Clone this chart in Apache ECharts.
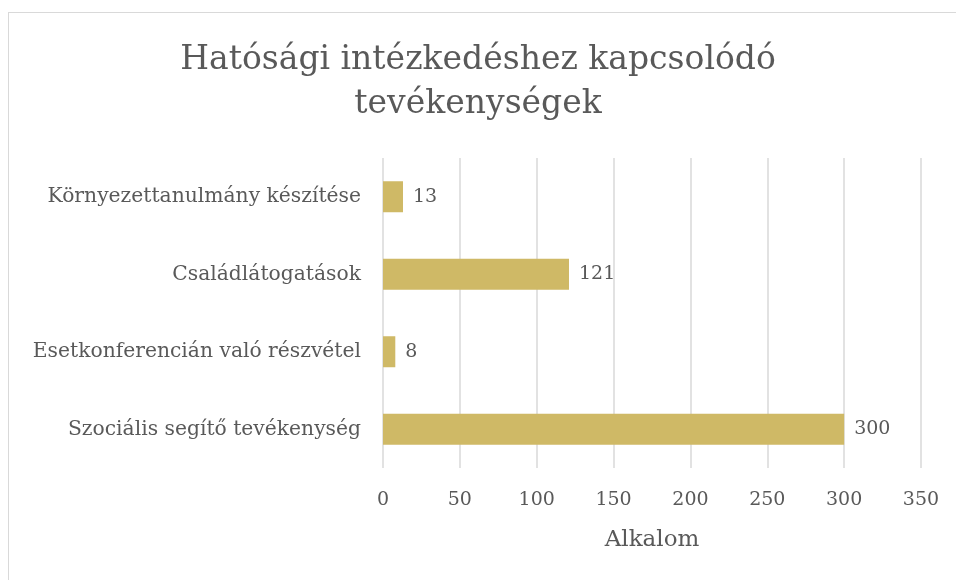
<!DOCTYPE html>
<html>
<head>
<meta charset="utf-8">
<script src="https://cdn.jsdelivr.net/npm/echarts@6/dist/echarts.min.js"></script>
<style>
  html, body { margin: 0; padding: 0; background: #fff; }
  #frame {
    position: absolute; left: 8px; top: 12px; width: 960px; height: 580px;
    border: 1px solid #d9d9d9; box-sizing: border-box;
  }
  #chart { position: absolute; left: 0; top: 0; width: 956px; height: 580px; }
</style>
</head>
<body>
<div id="frame"></div>
<div id="chart"></div>
<script>
// categories bottom -> top (as ECharts draws a category yAxis)
const categories = [
  'Szociális segítő tevékenység',
  'Esetkonferencián való részvétel',
  'Családlátogatások',
  'Környezettanulmány készítése'
];
const values = [300, 8, 121, 13];

const titleText = 'Hatósági intézkedéshez kapcsolódó\ntevékenységek';
const axisName = 'Alkalom';

const font = '"DejaVu Serif", serif';
const textColor = '#595959';

const chart = echarts.init(document.getElementById('chart'));

chart.setOption({
  animation: false,
  title: {
    text: titleText,
    left: 'center',
    top: 33,
    textStyle: {
      fontFamily: font,
      fontWeight: 'normal',
      fontSize: 33,
      lineHeight: 44,
      color: textColor
    }
  },
  grid: { left: 383, right: 35, top: 158, bottom: 112 },
  xAxis: {
    type: 'value',
    min: 0,
    max: 350,
    interval: 50,
    name: axisName,
    nameLocation: 'middle',
    nameGap: 61,
    nameTextStyle: { fontFamily: font, fontSize: 23, color: textColor },
    axisLine: { show: false },
    axisTick: { show: false },
    axisLabel: { fontFamily: font, fontSize: 19, color: textColor, margin: 23 },
    splitLine: { lineStyle: { color: '#d9d9d9', width: 1.5 } }
  },
  yAxis: {
    type: 'category',
    data: categories,
    axisLine: { show: false },
    axisTick: { show: false },
    axisLabel: { fontFamily: font, fontSize: 20.3, color: textColor, margin: 22 }
  },
  series: [{
    type: 'bar',
    data: values,
    barWidth: 31,
    itemStyle: { color: '#cfb966' },
    label: {
      show: true,
      position: 'right',
      distance: 10,
      fontFamily: font,
      fontSize: 19,
      color: textColor
    }
  }]
});
</script>
</body>
</html>
